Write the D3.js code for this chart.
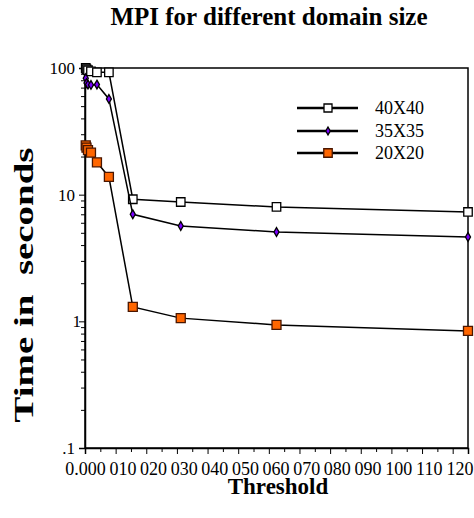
<!DOCTYPE html>
<html>
<head>
<meta charset="utf-8">
<script src="https://cdn.jsdelivr.net/npm/d3@7"></script>
<style>
  body { margin: 0; background: #fff; }
  svg text { font-family: "Liberation Serif", "Times New Roman", serif; }
</style>
</head>
<body>
<div id="chart"></div>
<script>
// values
const thresholds = [0.000244, 0.000488, 0.000977, 0.00195, 0.0039, 0.0078, 0.0156, 0.03125, 0.0625, 0.125]
const series40 = [100, 98, 96, 94, 92.5, 92.5, 9.2, 8.75, 8.0, 7.3]
const series35 = [83, 76, 74, 73.5, 74, 57, 7.0, 5.66, 5.07, 4.63]
const series20 = [24.5, 23.5, 22.5, 21.5, 18, 13.8, 1.3, 1.06, 0.936, 0.84]
const seriesNames = ['40X40', '35X35', '20X20']

const xTickValues = [0, 0.01, 0.02, 0.03, 0.04, 0.05, 0.06, 0.07, 0.08, 0.09, 0.1, 0.11, 0.12]
const xTickLabels = ['0.000', '0.010', '0.020', '0.030', '0.040', '0.050', '0.060', '0.070', '0.080', '0.090', '0.100', '0.110', '0.120']
const xMinorValues = [0.005, 0.015, 0.025, 0.035, 0.045, 0.055, 0.065, 0.075, 0.085, 0.095, 0.105, 0.115]
const yTickValues = [0.1, 1, 10, 100]
const yTickLabels = ['.1', '1', '10', '100']
const yMinorValues = [0.2, 0.3, 0.4, 0.5, 0.6, 0.7, 0.8, 0.9, 2, 3, 4, 5, 6, 7, 8, 9, 20, 30, 40, 50, 60, 70, 80, 90]

const width = 474,
  height = 518,
  plotLeft = 85,
  plotRight = 468,
  plotTop = 68,
  plotBottom = 448,
  serif = 'Liberation Serif, Times New Roman, serif'

const svg = d3.select('#chart')
  .append('svg')
  .attr('width', width)
  .attr('height', height)

const x = d3.scaleLinear().domain([0, 0.125]).range([plotLeft, plotRight])
const y = d3.scaleLog().domain([0.1, 100]).range([plotBottom, plotTop])

// frame
svg.append('rect')
  .attr('x', plotLeft)
  .attr('y', plotTop)
  .attr('width', plotRight - plotLeft)
  .attr('height', plotBottom - plotTop)
  .attr('fill', 'none')
  .attr('stroke', '#000')
  .attr('stroke-width', 1.5)

// y axis
svg.append('g')
  .attr('transform', `translate(${plotLeft},0)`)
  .call(d3.axisLeft(y).tickValues(yMinorValues).tickSize(4).tickFormat(''))
  .call(g => g.select('.domain').remove())
const yAxis = svg.append('g')
  .attr('transform', `translate(${plotLeft},0)`)
  .call(d3.axisLeft(y).tickValues(yTickValues).tickSize(6).tickPadding(4)
    .tickFormat((d, i) => yTickLabels[i]))
yAxis.select('.domain').attr('stroke-width', 1.5)
yAxis.selectAll('text').attr('font-size', 17)
yAxis.selectAll('text').filter(d => d === 1).attr('x', -4)

// x axis
svg.append('g')
  .attr('transform', `translate(0,${plotBottom})`)
  .call(d3.axisBottom(x).tickValues(xMinorValues).tickSize(4).tickFormat(''))
  .call(g => g.select('.domain').remove())
const xAxis = svg.append('g')
  .attr('transform', `translate(0,${plotBottom})`)
  .call(d3.axisBottom(x).tickValues(xTickValues).tickSize(6).tickPadding(8)
    .tickFormat((d, i) => xTickLabels[i]))
xAxis.select('.domain').attr('stroke-width', 1.5)
xAxis.selectAll('text').attr('font-size', 18)
// labels overlap: each one hides the start of the next
xAxis.selectAll('.tick').each(function () {
  const t = d3.select(this).select('text')
  const b = t.node().getBBox()
  d3.select(this).insert('rect', 'text')
    .attr('x', b.x)
    .attr('y', b.y + 3)
    .attr('width', b.width + 3.5)
    .attr('height', b.height - 3)
    .attr('fill', '#fff')
})
xAxis.selectAll('.tick').sort((a, b) => b - a)

const line = d3.line()
  .x((d, i) => x(thresholds[i]))
  .y(d => y(d))

const square = d3.symbol().type(d3.symbolSquare)
const diamond = d3.symbol().type(d3.symbolDiamond)

const drawSeries = (values, sym, size, fill, stroke) => {
  svg.append('path')
    .datum(values)
    .attr('d', line)
    .attr('fill', 'none')
    .attr('stroke', '#000')
    .attr('stroke-width', 1.5)
  svg.append('g')
    .selectAll('path')
    .data(values)
    .join('path')
    .attr('transform', (d, i) => `translate(${x(thresholds[i])},${y(d)})`)
    .attr('d', sym.size(size)())
    .attr('fill', fill)
    .attr('stroke', stroke)
    .attr('stroke-width', 1.3)
}

drawSeries(series40, square, 72, '#fff', '#000')
drawSeries(series35, diamond, 22, '#7a00ff', '#000')
drawSeries(series20, square, 81, '#ff6600', '#4a1600')

// legend
const legendY = [108, 131, 153]
const legendMarks = [
  [square, 64, '#fff', '#000'],
  [diamond, 18, '#7a00ff', '#000'],
  [square, 72, '#ff6600', '#4a1600']
]
seriesNames.forEach((name, i) => {
  const g = svg.append('g').attr('transform', `translate(0,${legendY[i]})`)
  g.append('line')
    .attr('x1', 297).attr('x2', 358)
    .attr('stroke', '#000').attr('stroke-width', 2.5)
  g.append('path')
    .attr('transform', 'translate(328,0)')
    .attr('d', legendMarks[i][0].size(legendMarks[i][1])())
    .attr('fill', legendMarks[i][2])
    .attr('stroke', legendMarks[i][3])
    .attr('stroke-width', 1.3)
  g.append('text')
    .attr('x', 375)
    .attr('y', 6)
    .attr('font-family', serif)
    .attr('font-size', 18)
    .text(name)
})

// titles
svg.append('text')
  .attr('x', 269)
  .attr('y', 25)
  .attr('text-anchor', 'middle')
  .attr('font-family', serif)
  .attr('font-weight', 'bold')
  .attr('font-size', 25)
  .text('MPI for different domain size')

svg.append('text')
  .attr('x', 278)
  .attr('y', 494)
  .attr('text-anchor', 'middle')
  .attr('font-family', serif)
  .attr('font-weight', 'bold')
  .attr('font-size', 23)
  .text('Threshold')

svg.append('text')
  .attr('transform', 'translate(33,285) rotate(-90)')
  .attr('text-anchor', 'middle')
  .attr('font-family', serif)
  .attr('font-weight', 'bold')
  .attr('font-size', 28)
  .attr('textLength', 275)
  .attr('lengthAdjust', 'spacingAndGlyphs')
  .style('white-space', 'pre')
  .text('Time in  seconds')
</script>
</body>
</html>
